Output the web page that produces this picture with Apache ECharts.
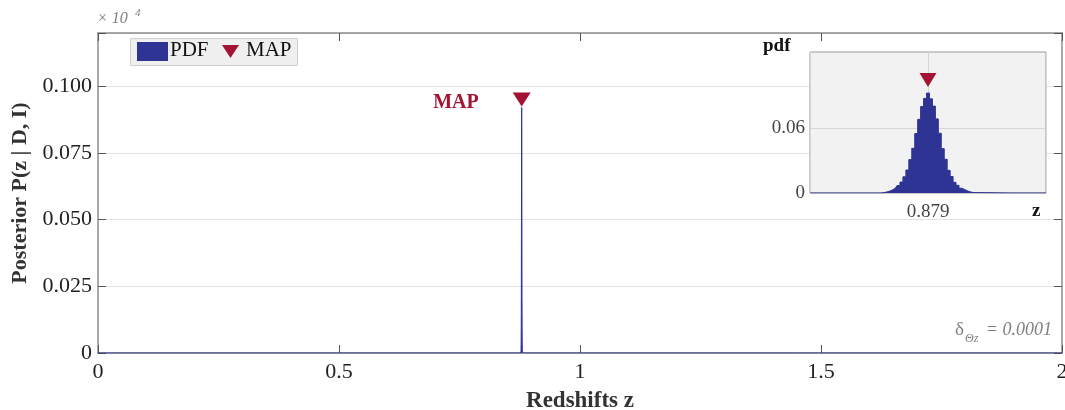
<!DOCTYPE html>
<html><head><meta charset="utf-8">
<script src="https://cdn.jsdelivr.net/npm/echarts@6/dist/echarts.min.js"></script>
<style>html,body{margin:0;padding:0;background:#fff}#c{width:1065px;height:410px}</style>
</head><body><div id="c"></div>
<script>
// ---- data ----
const zBins = [0.8774,0.8775,0.8776,0.8777,0.8778,0.8779,0.8780,0.8781,0.8782,0.8783,0.8784,
  0.8785,0.8786,0.8787,0.8788,0.8789,0.8790,0.8791,0.8792,0.8793,0.8794,0.8795,0.8796,
  0.8797,0.8798,0.8799,0.8800,0.8801,0.8802,0.8803,0.8804,0.8805,0.8806];
const pdfVals = [0,0.0004,0.0009,0.0017,0.0029,0.0046,0.0069,0.0101,0.0149,0.0212,0.0308,
  0.0412,0.0548,0.0679,0.0797,0.0872,0.0921,0.0868,0.0801,0.0683,0.0551,0.0409,0.0311,
  0.0209,0.0152,0.0098,0.0071,0.0044,0.0031,0.0018,0.0009,0.0004,0];
const mapZ = 0.879;
const mapP = 0.0921;
const mainXRange = [0, 2];
const mainYMax = 0.12;
const insetXRange = [0.875, 0.883];
const insetYMax = 0.13;
const mainXTickLabels = ['0','0.5','1','1.5','2'];
const mainYTickLabels = ['0','0.025','0.050','0.075','0.100'];
const insetXTickLabel = '0.879';
const insetYTickLabels = ['0','0.06'];

// ---- styling ----
const BLUE = '#2E3494';
const RED = '#A31432';
const SERIF = '"Liberation Serif", "Times New Roman", serif';
const AX = '#8c8c8c';

const pts = zBins.map((z, i) => [z, pdfVals[i]]);
const mainData = [[mainXRange[0], 0]].concat(pts, [[mainXRange[1], 0]]);
const insetData = [[insetXRange[0], 0]].concat(pts, [[insetXRange[1], 0]]);

const tri = 'path://M0,0L18,0L9,14Z';

function mainXFmt(v){ const i = Math.round(v / 0.5); return Math.abs(v - i*0.5) < 1e-9 ? (mainXTickLabels[i] || '') : ''; }
function mainYFmt(v){ const i = Math.round(v / 0.025); return Math.abs(v - i*0.025) < 1e-9 ? (mainYTickLabels[i] || '') : ''; }

const mirrorTick = {show: true, inside: true, length: 8, lineStyle: {color: '#555'}};
const boxLine = {show: true, onZero: false, lineStyle: {color: AX, width: 1.5}};

const chart = echarts.init(document.getElementById('c'), null, {renderer: 'canvas'});
chart.setOption({
  backgroundColor: '#fff',
  animation: false,
  grid: [
    {left: 98, right: 3, top: 33, bottom: 57, show: false, outerBoundsMode: 'none', containLabel: false},
    {left: 810, top: 52, width: 236, height: 141, show: true, backgroundColor: '#f2f2f2',
     borderColor: '#9a9a9a', borderWidth: 1, z: 3, outerBoundsMode: 'none', containLabel: false}
  ],
  xAxis: [
    {gridIndex: 0, type: 'value', min: mainXRange[0], max: mainXRange[1], interval: 0.5, position: 'bottom',
     axisLine: boxLine, axisTick: mirrorTick,
     axisLabel: {formatter: mainXFmt, fontFamily: SERIF, fontSize: 22, color: '#222', margin: 8},
     splitLine: {show: false},
     name: 'Redshifts z', nameLocation: 'middle', nameGap: 37,
     nameTextStyle: {fontFamily: SERIF, fontSize: 23, fontWeight: 'bold', color: '#333'}},
    {gridIndex: 0, type: 'value', min: mainXRange[0], max: mainXRange[1], interval: 0.5, position: 'top',
     axisLine: boxLine, axisTick: mirrorTick,
     axisLabel: {show: false}, splitLine: {show: false}},
    {gridIndex: 1, type: 'value', min: insetXRange[0], max: insetXRange[1], interval: 0.004, z: 4,
     axisLine: {show: false, onZero: false},
     axisTick: {show: false},
     axisLabel: {formatter: v => Math.abs(v - mapZ) < 1e-7 ? insetXTickLabel : '', fontFamily: SERIF,
       fontSize: 19, color: '#444', margin: 10, showMinLabel: false, showMaxLabel: false},
     splitLine: {show: true, lineStyle: {color: '#d6d6d6', width: 1}}}
  ],
  yAxis: [
    {gridIndex: 0, type: 'value', min: 0, max: mainYMax, interval: 0.025, position: 'left',
     axisLine: boxLine, axisTick: mirrorTick,
     axisLabel: {formatter: mainYFmt, fontFamily: SERIF, fontSize: 22, color: '#222', margin: 6},
     splitLine: {show: true, lineStyle: {color: '#e2e2e2', width: 1}},
     name: 'Posterior P(z | D, I)', nameLocation: 'middle', nameGap: 63,
     nameTextStyle: {fontFamily: SERIF, fontSize: 22, fontWeight: 'bold', color: '#333'}},
    {gridIndex: 0, type: 'value', min: 0, max: mainYMax, interval: 0.025, position: 'right',
     axisLine: boxLine, axisTick: mirrorTick,
     axisLabel: {show: false}, splitLine: {show: false}},
    {gridIndex: 1, type: 'value', min: 0, max: insetYMax, interval: 0.06, z: 4,
     axisLine: {show: false, onZero: false}, axisTick: {show: false},
     axisLabel: {formatter: v => v === 0 ? insetYTickLabels[0] : (Math.abs(v - 0.06) < 1e-9 ? insetYTickLabels[1] : ''),
       fontFamily: SERIF, fontSize: 19, color: '#444', margin: 5, showMaxLabel: false},
     splitLine: {show: false}}
  ],
  series: [
    {name: 'PDF', type: 'line', xAxisIndex: 0, yAxisIndex: 0, data: mainData, showSymbol: false,
     lineStyle: {color: BLUE, width: 1}, areaStyle: {color: BLUE, opacity: 1}, itemStyle: {color: BLUE}, z: 2},
    {name: 'MAP', type: 'scatter', xAxisIndex: 0, yAxisIndex: 0, data: [[mapZ, mapP]],
     symbol: tri, symbolSize: [18, 14], symbolOffset: [0, -8], itemStyle: {color: RED, opacity: 1}, z: 3,
     label: {show: true, position: 'left', distance: 34, formatter: 'MAP', color: RED,
       fontFamily: SERIF, fontWeight: 'bold', fontSize: 20, offset: [0, 3]}},
    {name: 'grid-inset', type: 'line', xAxisIndex: 2, yAxisIndex: 2, data: [], z: 4, silent: true,
     markLine: {silent: true, symbol: 'none', label: {show: false}, animation: false,
       lineStyle: {color: '#d6d6d6', width: 1, type: 'solid'},
       data: [{yAxis: 0.06}]}},
    {name: 'PDF', type: 'line', step: 'middle', xAxisIndex: 2, yAxisIndex: 2, data: insetData, showSymbol: false,
     lineStyle: {color: BLUE, width: 1}, areaStyle: {color: BLUE, opacity: 1}, itemStyle: {color: BLUE}, z: 5},
    {name: 'MAP', type: 'scatter', xAxisIndex: 2, yAxisIndex: 2, data: [[mapZ, mapP]],
     symbol: tri, symbolSize: [17, 14], symbolOffset: [0, -13], itemStyle: {color: RED, opacity: 1}, z: 6}
  ],
  graphic: [
    // legend box
    {type: 'rect', left: 130, top: 38, shape: {width: 167, height: 27},
     style: {fill: '#efefef', stroke: '#d0d0d0', lineWidth: 1}, z: 10},
    {type: 'rect', left: 137, top: 42, shape: {width: 31, height: 19}, style: {fill: BLUE}, z: 11},
    {type: 'text', left: 170, top: 40, style: {text: 'PDF', font: '21px ' + SERIF, fill: '#111'}, z: 11},
    {type: 'polygon', shape: {points: [[222, 45], [239, 45], [230.5, 58]]}, style: {fill: RED}, z: 11},
    {type: 'text', left: 246, top: 40, style: {text: 'MAP', font: '21px ' + SERIF, fill: '#111'}, z: 11},
    // exponent
    {type: 'text', left: 97, top: 11, style: {text: '× 10', font: 'italic 16px ' + SERIF, fill: '#808080'}},
    {type: 'text', left: 135, top: 8, style: {text: '4', font: 'italic 11px ' + SERIF, fill: '#808080'}},
    // delta annotation
    {type: 'text', left: 955, top: 321, style: {text: 'δ', font: '19px ' + SERIF, fill: '#808080'}},
    {type: 'text', left: 965, top: 333, style: {text: 'Θz', font: 'italic 12px ' + SERIF, fill: '#808080'}},
    {type: 'text', right: 13, top: 321, style: {text: '= 0.0001', font: 'italic 18px ' + SERIF, fill: '#808080'}},
    // inset labels
    {type: 'text', left: 763, top: 37, style: {text: 'pdf', font: 'bold 19px ' + SERIF, fill: '#111'}, z: 10},
    {type: 'text', left: 1032, top: 202, style: {text: 'z', font: 'bold 19px ' + SERIF, fill: '#111'}, z: 10}
  ]
});
</script></body></html>
